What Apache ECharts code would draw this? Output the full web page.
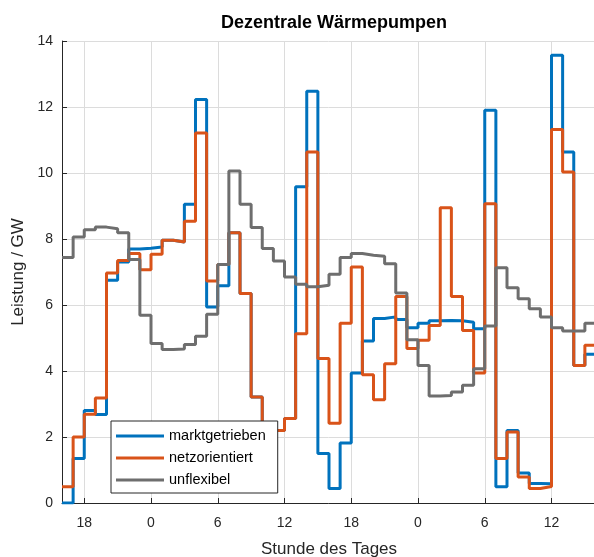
<!DOCTYPE html>
<html>
<head>
<meta charset="utf-8">
<script src="https://cdn.jsdelivr.net/npm/echarts@6/dist/echarts.min.js"></script>
<style>
  html, body { margin: 0; padding: 0; background: #fff; }
  #chart { width: 594px; height: 557px; }
</style>
</head>
<body>
<div id="chart"></div>
<script>
// Stunde 0 = 16:00 Uhr am ersten Tag, je ein Wert pro Stunde (48 h)
const marktgetrieben = [
  0.0, 1.35, 2.8, 2.68, 6.75, 7.3, 7.7, 7.72, 7.76, 7.96, 7.91, 9.05,
  12.23, 5.94, 6.58, 8.19, 6.35, 3.21, 2.2, 2.2, 2.56, 9.58, 12.48, 1.5,
  0.44, 1.82, 3.94, 4.91, 5.59, 5.64, 5.56, 5.31, 5.45, 5.52, 5.53, 5.52,
  5.48, 5.28, 11.9, 0.49, 2.2, 0.91, 0.59, 0.58, 13.57, 10.64, 4.17, 4.51
]
const netzorientiert = [
  0.49, 2.0, 2.69, 3.18, 6.97, 7.35, 7.56, 7.07, 7.54, 7.96, 7.91, 8.54,
  11.21, 6.73, 7.23, 8.19, 6.35, 3.21, 2.2, 2.2, 2.56, 5.13, 10.64, 4.38,
  2.42, 5.45, 7.15, 3.89, 3.13, 4.22, 6.26, 4.68, 4.93, 5.38, 8.95, 6.26,
  5.23, 3.94, 9.07, 1.35, 2.15, 0.79, 0.44, 0.5, 11.32, 10.03, 4.17, 4.78
]
const unflexibel = [
  7.44, 8.06, 8.28, 8.36, 8.31, 8.19, 7.38, 5.69, 4.83, 4.65, 4.67, 4.8,
  5.05, 5.72, 7.23, 10.06, 9.05, 8.35, 7.71, 7.33, 6.85, 6.63, 6.55, 6.6,
  6.93, 7.44, 7.56, 7.51, 7.48, 7.25, 6.36, 4.95, 4.17, 3.24, 3.26, 3.36,
  3.57, 4.07, 5.36, 7.13, 6.52, 6.19, 5.89, 5.64, 5.31, 5.21, 5.21, 5.45
]
const xTicks = [2, 8, 14, 20, 26, 32, 38, 44]
const xTickLabels = ['18', '0', '6', '12', '18', '0', '6', '12']

const fontFamily = "'Liberation Sans', Arial, sans-serif"
const axisColor = '#262626'
const gridColor = '#dcdcdc'

// stairs: jeder Wert gilt von Stunde i bis i+1
function toStairs(values) {
  let pts = values.map((v, i) => [i, v])
  pts.push([values.length, values[values.length - 1]])
  return pts
}

function makeSeries(name, values, color) {
  return {
    name: name,
    type: 'line',
    step: 'end',
    data: toStairs(values),
    showSymbol: false,
    symbol: 'none',
    color: color,
    lineStyle: { color: color, width: 3 },
    emphasis: { disabled: true },
    animation: false
  }
}

let myChart = echarts.init(document.getElementById('chart'), null, { renderer: 'canvas' })
myChart.setOption({
  backgroundColor: '#fff',
  animation: false,
  textStyle: { fontFamily: fontFamily },
  title: {
    text: 'Dezentrale Wärmepumpen',
    left: 329,
    top: 9,
    textAlign: 'center',
    textStyle: { fontSize: 18, fontWeight: 'bold', color: '#000', fontFamily: fontFamily }
  },
  legend: {
    orient: 'vertical',
    left: 111,
    top: 421,
    icon: 'rect',
    itemWidth: 48,
    itemHeight: 3,
    itemGap: 6,
    padding: [7, 12, 5, 5],
    backgroundColor: '#fff',
    borderColor: axisColor,
    borderWidth: 1,
    borderRadius: 0,
    textStyle: { fontSize: 14.5, color: '#000', lineHeight: 16, fontFamily: fontFamily },
    data: ['marktgetrieben', 'netzorientiert', 'unflexibel']
  },
  grid: {
    left: 62,
    top: 41,
    width: 534,
    height: 462,
    containLabel: false,
    outerBoundsMode: 'none'
  },
  xAxis: {
    type: 'value',
    min: 0,
    max: 48,
    name: 'Stunde des Tages',
    nameLocation: 'middle',
    nameGap: 38,
    nameTextStyle: { fontSize: 17, color: axisColor, fontFamily: fontFamily },
    axisLine: { show: true, onZero: false, lineStyle: { color: axisColor, width: 1 } },
    axisTick: { show: true, inside: true, length: 5, customValues: xTicks, lineStyle: { color: axisColor } },
    axisLabel: {
      customValues: xTicks,
      margin: 13,
      fontSize: 14,
      color: axisColor,
      formatter: v => xTickLabels[xTicks.indexOf(v)]
    },
    splitLine: { show: true, lineStyle: { color: gridColor, width: 1 } }
  },
  yAxis: {
    type: 'value',
    min: 0,
    max: 14,
    interval: 2,
    name: 'Leistung / GW',
    nameLocation: 'middle',
    nameGap: 33,
    nameTextStyle: { fontSize: 17, color: axisColor, fontFamily: fontFamily },
    axisLine: { show: true, lineStyle: { color: axisColor, width: 1 } },
    axisTick: { show: true, inside: true, length: 5, lineStyle: { color: axisColor } },
    axisLabel: { margin: 9, fontSize: 14, color: axisColor },
    splitLine: { show: true, lineStyle: { color: gridColor, width: 1 } }
  },
  series: [
    makeSeries('marktgetrieben', marktgetrieben, '#0072BD'),
    makeSeries('netzorientiert', netzorientiert, '#D95319'),
    makeSeries('unflexibel', unflexibel, '#6e6e6e')
  ]
})
</script>
</body>
</html>
